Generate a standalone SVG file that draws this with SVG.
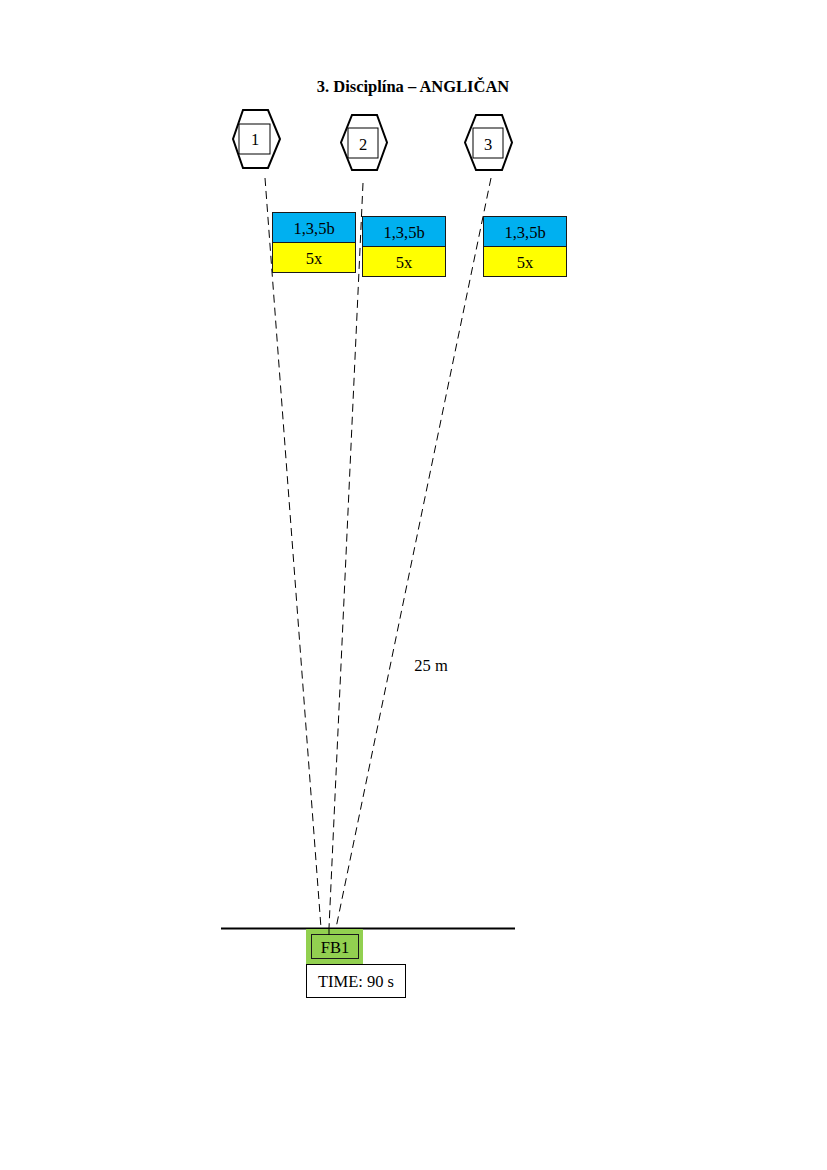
<svg xmlns="http://www.w3.org/2000/svg" width="827" height="1170" viewBox="0 0 827 1170">
<style>
text{font-family:"Liberation Serif","Times New Roman",serif;font-size:16.5px;fill:#000;text-anchor:middle}
.hex{fill:#fff;stroke:#000;stroke-width:2}
.sq{fill:none;stroke:#000;stroke-width:1}
.blue{fill:#00B0F0;stroke:#1a1a1a;stroke-width:1}
.yel{fill:#FFFF00;stroke:#1a1a1a;stroke-width:1}
.dash{stroke:#000;stroke-width:1;stroke-dasharray:8 5;fill:none}
</style>
<rect width="827" height="1170" fill="#fff"/>
<text x="413" y="92" font-weight="bold" font-size="17.2">3. Disciplína – ANGLIČAN</text>

<g id="connectors">
<line class="dash" x1="265" y1="178" x2="321" y2="928"/>
<line class="dash" x1="363" y1="183" x2="329" y2="928"/>
<line class="dash" x1="491" y1="178" x2="336" y2="928"/>
<line x1="221" y1="928.5" x2="515" y2="928.5" stroke="#000" stroke-width="2"/>
<text x="431" y="671">25 m</text>
</g>

<g id="target1">
<polygon class="hex" points="243,110 268,110 280,139 268,168 243,168 233,139"/>
<rect class="sq" x="239" y="124" width="31" height="30"/>
<text x="255" y="144.5">1</text>
</g>
<g id="target2">
<polygon class="hex" points="352,115 377,115 387,142.5 377,170 352,170 341,142.5"/>
<rect class="sq" x="348" y="128" width="30" height="30"/>
<text x="363" y="149.5">2</text>
</g>
<g id="target3">
<polygon class="hex" points="476,115 502,115 512,142.5 502,170 476,170 465,142.5"/>
<rect class="sq" x="473" y="128" width="30" height="30"/>
<text x="488" y="149.5">3</text>
</g>

<g id="box1">
<rect class="blue" x="272.5" y="212.5" width="83" height="30"/>
<rect class="yel" x="272.5" y="242.5" width="83" height="30"/>
<text x="314" y="233.5" font-size="17">1,3,5b</text>
<text x="314" y="263.5" font-size="17">5x</text>
</g>
<g id="box2">
<rect class="blue" x="362.5" y="216.5" width="83" height="30"/>
<rect class="yel" x="362.5" y="246.5" width="83" height="30"/>
<text x="404" y="237.5" font-size="17">1,3,5b</text>
<text x="404" y="268" font-size="17">5x</text>
</g>
<g id="box3">
<rect class="blue" x="483.5" y="216.5" width="83" height="30"/>
<rect class="yel" x="483.5" y="246.5" width="83" height="30"/>
<text x="525" y="237.5" font-size="17">1,3,5b</text>
<text x="525" y="268" font-size="17">5x</text>
</g>

<g id="fb1">
<rect x="306" y="929" width="57" height="35" fill="#92D050"/>
<rect x="311.5" y="934.5" width="47" height="24" fill="none" stroke="#1a1a1a" stroke-width="1"/>
<line x1="329" y1="928" x2="329" y2="935" stroke="#000" stroke-width="1"/>
<text x="335" y="952.5">FB1</text>
</g>
<g id="time">
<rect x="306.5" y="964.5" width="99" height="33" fill="#fff" stroke="#000" stroke-width="1"/>
<text x="356" y="987" font-size="17">TIME: 90 s</text>
</g>
</svg>
